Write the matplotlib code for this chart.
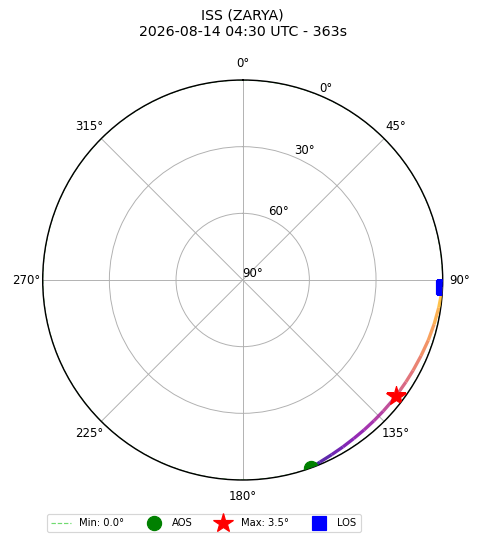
import numpy as np
import matplotlib
matplotlib.use("Agg")
import matplotlib.pyplot as plt
from matplotlib.collections import LineCollection

# pass geometry (azimuth deg, elevation deg)
track_az = [160, 157, 153, 149, 145, 141, 137, 133, 129, 126, 122, 118, 113, 108, 103, 98, 94, 92]
track_el = [0.0, 1.0, 1.8, 2.4, 2.9, 3.2, 3.4, 3.5, 3.5, 3.5, 3.4, 3.2, 2.8, 2.2, 1.6, 0.9, 0.35, 0.0]

aos_az, aos_el = 160, 0.0
los_az, los_el = 92, 0.0
max_az, max_el = 127, 3.5
min_el = 0.0

title = "ISS (ZARYA)\n2026-08-14 04:30 UTC - 363s"
r_ticks = [0, 30, 60, 90]
r_tick_labels = ["90°", "60°", "30°", "0°"]

DPI = 85
fig = plt.figure(figsize=(480 / DPI, 543 / DPI), dpi=DPI)
ax = fig.add_axes([42.7 / 480, 63 / 543, 400 / 480, 400 / 543], projection='polar')
ax.set_theta_zero_location('N')
ax.set_theta_direction(-1)
ax.set_ylim(0, 90)
ax.set_yticks(r_ticks)
ax.set_yticklabels(r_tick_labels)
ax.set_rlabel_position(22.5)
ax.spines['polar'].set_linewidth(1.2)

# r = 90 - elevation, so the horizon is the outer ring
theta = np.radians(track_az)
r = 90 - np.array(track_el)
pts = np.column_stack([theta, r]).reshape(-1, 1, 2)
segs = np.concatenate([pts[:-1], pts[1:]], axis=1)
cols = plt.cm.plasma(np.linspace(0.05, 0.9, len(segs)))
lc = LineCollection(segs, colors=cols, linewidths=2.8, alpha=0.85, zorder=3)
ax.add_collection(lc)

circ = np.linspace(0, 2 * np.pi, 361)
ax.plot(circ, np.full_like(circ, 90 - min_el), '--', color='limegreen', lw=1, alpha=0.7,
        label=f'Min: {min_el:.1f}°', zorder=2)
ax.plot(np.radians(aos_az), 90 - aos_el, 'o', color='green', markersize=12, label='AOS', zorder=4)
ax.plot(np.radians(max_az), 90 - max_el, '*', color='red', markersize=17, label=f'Max: {max_el:.1f}°', zorder=5)
ax.plot(np.radians(los_az), 90 - los_el, 's', color='blue', markersize=12, label='LOS', zorder=4)

fig.text(242.7 / 480, 1 - 23.5 / 543, title, ha='center', va='center', fontsize=12)

fig.legend(loc='upper left', bbox_to_anchor=(47 / 480, 1 - 514 / 543), ncol=4,
           fontsize=8.5, borderaxespad=0)

fig.savefig('out.png', dpi=DPI)
